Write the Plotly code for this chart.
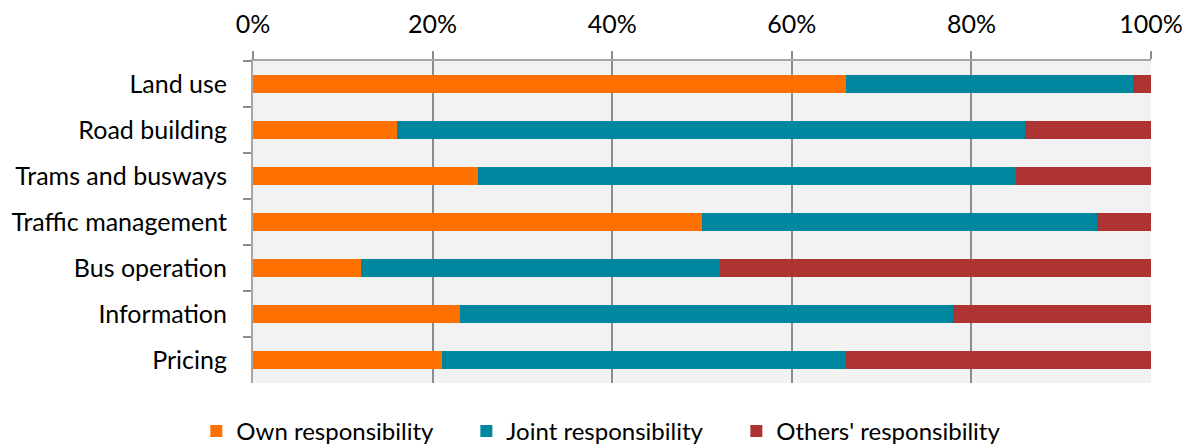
import plotly.graph_objects as go

categories = ["Land use", "Road building", "Trams and busways", "Traffic management",
              "Bus operation", "Information", "Pricing"]
own = [66, 16, 25, 50, 12, 23, 21]
joint = [32, 70, 60, 44, 40, 55, 45]
others = [2, 14, 15, 6, 48, 22, 34]
series_names = ["Own responsibility", "Joint responsibility", "Others' responsibility"]
colors = ["#FF7000", "#0087A0", "#AE3434"]
tick_vals = [0, 20, 40, 60, 80, 100]
tick_text = ["0%", "20%", "40%", "60%", "80%", "100%"]

font = "Lato"
fig = go.Figure()
for name, vals, col in zip(series_names, [own, joint, others], colors):
    fig.add_trace(go.Bar(y=categories, x=vals, name=name, orientation="h",
                         marker=dict(color=col, line=dict(width=0))))

fig.update_layout(
    barmode="stack", bargap=0.59,
    width=1190, height=448,
    margin=dict(l=253, r=39, t=61, b=65, autoexpand=False),
    plot_bgcolor="#F2F2F2", paper_bgcolor="white",
    font=dict(family=font, size=25, color="#000000"),
    legend=dict(orientation="h", x=0.165, xref="container", xanchor="left",
                y=-0.15, yref="paper", yanchor="middle", traceorder="normal",
                entrywidth=225, entrywidthmode="pixels", bgcolor="rgba(0,0,0,0)",
                font=dict(size=24, family=font), itemwidth=30, tracegroupgap=0),
    xaxis=dict(side="top", range=[0, 100], tickvals=tick_vals, ticktext=tick_text,
               showgrid=True, gridcolor="#8C8C8C", gridwidth=2,
               ticks="outside", ticklen=8, tickwidth=2, tickcolor="#8C8C8C",
               showline=True, linecolor="#A6A6A6", linewidth=2, zeroline=False,
               ticklabelstandoff=8),
    yaxis=dict(autorange="reversed", tickson="boundaries", ticks="outside",
               ticklen=8, tickwidth=2, tickcolor="#8C8C8C",
               showline=True, linecolor="#A6A6A6", linewidth=2,
               showgrid=False, ticklabelstandoff=19),
)
fig.write_html("out.html")
